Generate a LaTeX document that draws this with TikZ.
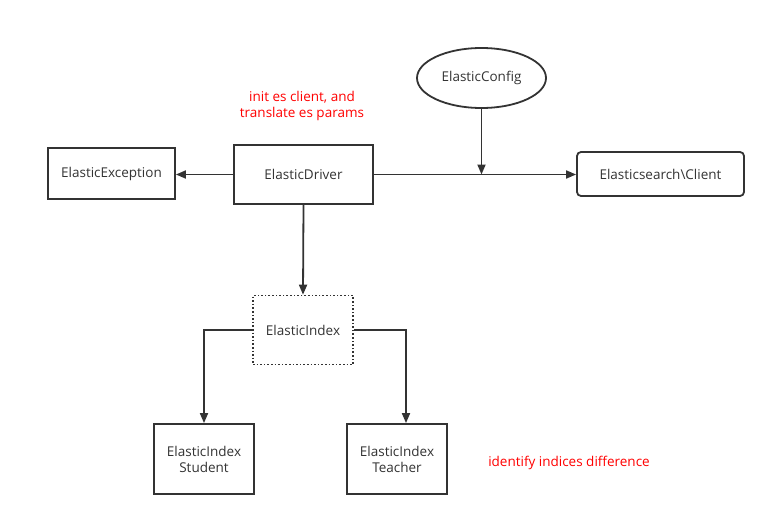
\documentclass[tikz,border=0pt]{standalone}
\usepackage{fontspec}
\setmainfont{Open Sans}
\usetikzlibrary{arrows.meta,shapes.geometric}
\definecolor{ink}{HTML}{333333}
\begin{document}
\begin{tikzpicture}[x=1pt,y=-1pt,
  font=\fontsize{13.5}{16}\selectfont,
  box/.style={draw=ink,line width=1.8pt,minimum width=#1,text=ink,align=center,inner sep=0pt},
  conn/.style={draw=ink,line width=1.8pt,-{Triangle[length=10pt,width=8pt]}},
  note/.style={text=red,align=center}]
\useasboundingbox (0,0) rectangle (776,527);
\node[box=127pt,minimum height=51pt] (exc) at (111.5,173.5) {ElasticException};
\node[box=139pt,minimum height=59pt] (drv) at (303.5,174.5) {ElasticDriver};
\node[box=129pt,minimum height=60pt,ellipse] (cfg) at (481.5,78) {ElasticConfig};
\node[box=167pt,minimum height=44pt,rounded corners=4pt] (cli) at (660.5,174) {Elasticsearch\textbackslash Client};
\node[box=100pt,minimum height=69pt,line width=1.6pt,dash pattern=on 1.6pt off 2pt] (idx) at (303,330) {ElasticIndex};
\node[box=100pt,minimum height=70pt] (stu) at (204,459) {ElasticIndex\\Student};
\node[box=100pt,minimum height=70pt] (tea) at (397,459) {ElasticIndex\\Teacher};
\node[note] (n1) at (302,106) {init es client, and\\translate es params};
\node[note] (n2) at (569,463) {identify indices difference};
\draw[conn] (drv.west) -- (drv.west -| exc.east);
\draw[conn] (drv.east) -- (drv.east -| cli.west);
\draw[conn] (cfg.south) -- (cfg.south |- drv.east);
\draw[conn] (drv.south) -- (idx.north);
\draw[conn] (idx.west) -| (stu.north);
\draw[conn] (idx.east) -| ([xshift=9pt]tea.north);
\end{tikzpicture}
\end{document}
